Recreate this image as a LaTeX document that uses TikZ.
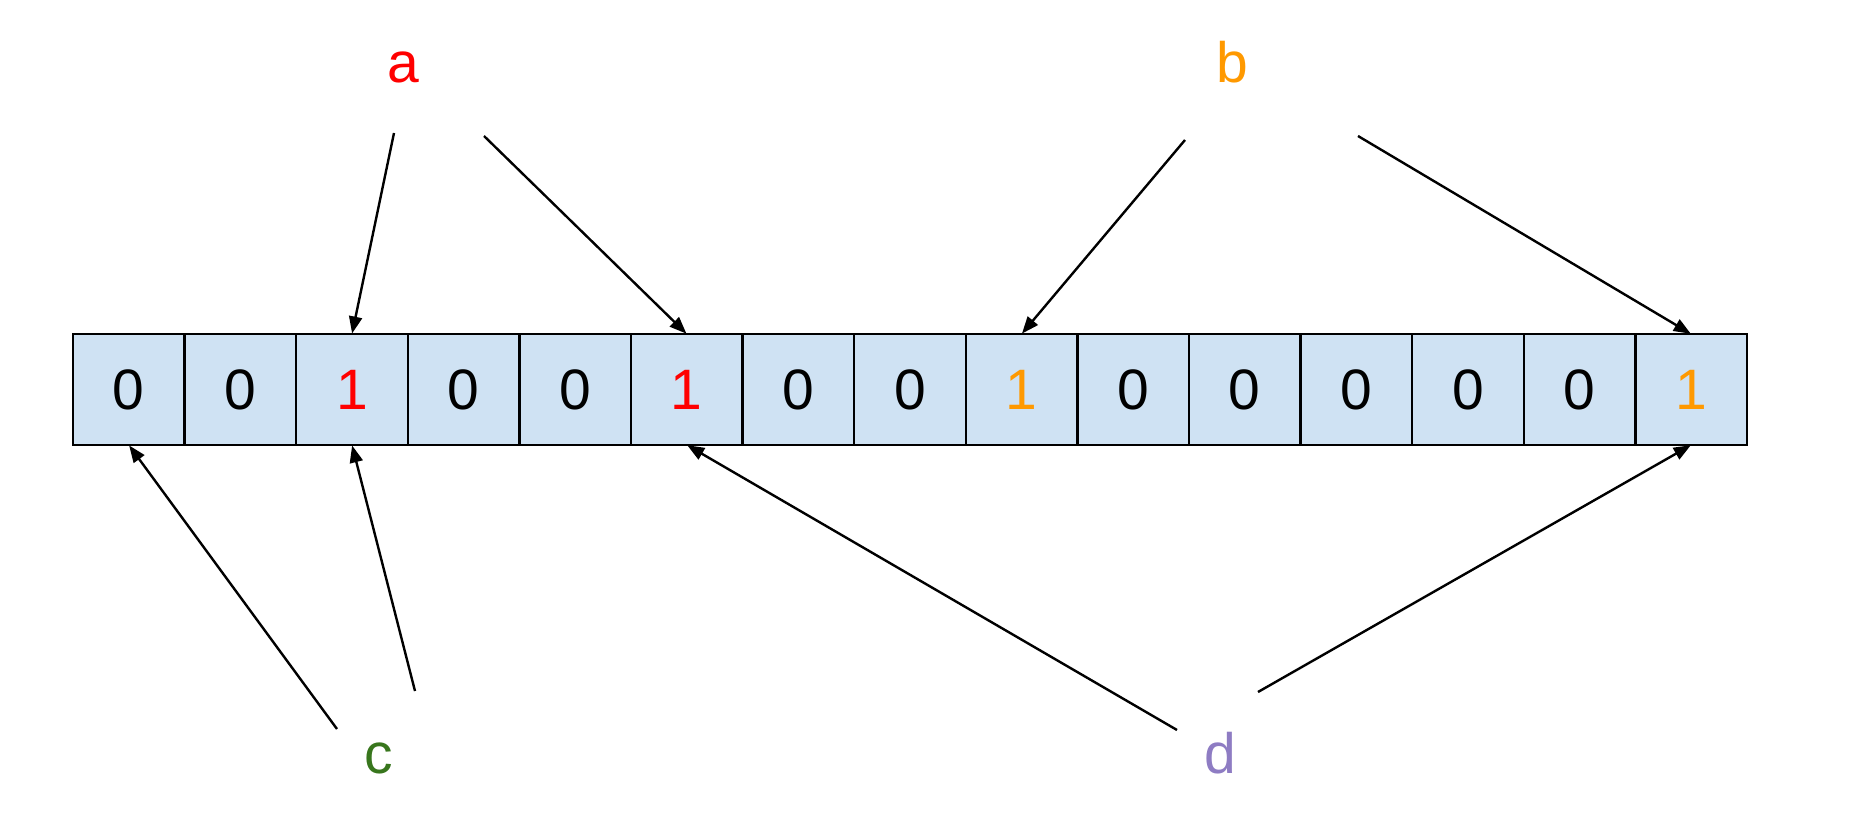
\documentclass[tikz,border=0pt]{standalone}
\usepackage{fontspec}
\setmainfont{Liberation Sans}
\usetikzlibrary{arrows.meta}
\definecolor{cellfill}{HTML}{CFE2F3}
\definecolor{cred}{HTML}{FF0000}
\definecolor{corange}{HTML}{FF9900}
\definecolor{cgreen}{HTML}{38761D}
\definecolor{cpurple}{HTML}{8E7CC3}
\tikzset{
  cell/.style={draw=black, line width=2.4pt, fill=cellfill, minimum width=111.6pt, minimum height=111pt, inner sep=0pt, outer sep=0pt, anchor=north west, font=\fontsize{57}{60}\selectfont},
  lbl/.style={anchor=base, inner sep=0pt, font=\fontsize{57}{60}\selectfont},
  arr/.style={line width=2.4pt, -{Triangle[length=17pt,width=13pt]}, shorten >=0.5pt}
}
\begin{document}
\begin{tikzpicture}[x=1pt,y=-1pt]
\useasboundingbox (0,0) rectangle (1872,824);
\foreach \i/\v/\c in {1/0/black,2/0/black,3/1/cred,4/0/black,5/0/black,6/1/cred,7/0/black,8/0/black,9/1/corange,10/0/black,11/0/black,12/0/black,13/0/black,14/0/black,15/1/corange}{
  \node[cell, text=\c] (c\i) at ({73+(\i-1)*111.6},334) {\v};
}
\node[lbl, text=cred] (la) at (403,83) {a};
\node[lbl, text=corange] (lb) at (1232,83) {b};
\node[lbl, text=cgreen] (lc) at (379,773) {c};
\node[lbl, text=cpurple] (ld) at (1220,773) {d};
\coordinate (a1) at (394,133);
\coordinate (a2) at (484,136);
\coordinate (b1) at (1185,140);
\coordinate (b2) at (1358,136);
\coordinate (cs1) at (337,729);
\coordinate (cs2) at (415,691);
\coordinate (d1) at (1177,730);
\coordinate (d2) at (1258,692);
\draw[arr] (a1) -- (c3.north);
\draw[arr] (a2) -- (c6.north);
\draw[arr] (b1) -- (c9.north);
\draw[arr] (b2) -- (c15.north);
\draw[arr] (cs1) -- (c1.south);
\draw[arr] (cs2) -- (c3.south);
\draw[arr] (d1) -- (c6.south);
\draw[arr] (d2) -- (c15.south);
\end{tikzpicture}
\end{document}
